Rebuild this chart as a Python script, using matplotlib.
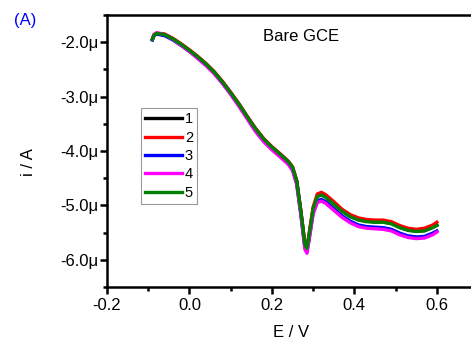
import matplotlib
matplotlib.use('Agg')
import matplotlib.pyplot as plt
from matplotlib.ticker import FuncFormatter, MultipleLocator

plt.rcParams['font.family'] = ['Liberation Sans', 'DejaVu Sans']

# Potential (V), shared by all scans
E = [-0.090, -0.086, -0.080, -0.060, -0.040, -0.020, 0.000, 0.020, 0.040, 0.060,
     0.080, 0.100, 0.120, 0.140, 0.160, 0.180, 0.200, 0.220, 0.240, 0.250,
     0.260, 0.270, 0.280, 0.285, 0.290, 0.300, 0.310, 0.320, 0.330, 0.350,
     0.370, 0.390, 0.410, 0.430, 0.450, 0.470, 0.490, 0.510, 0.530, 0.550,
     0.570, 0.590, 0.600]

# Current (uA) for scans 1..5
scan1 = [-1.95, -1.87, -1.84, -1.86, -1.94, -2.04, -2.15, -2.27, -2.40, -2.55,
         -2.73, -2.93, -3.14, -3.37, -3.59, -3.78, -3.93, -4.06, -4.20, -4.30,
         -4.55, -5.10, -5.72, -5.79, -5.56, -5.06, -4.83, -4.80, -4.84, -4.97,
         -5.10, -5.20, -5.26, -5.29, -5.30, -5.30, -5.33, -5.40, -5.45, -5.47,
         -5.46, -5.40, -5.36]
scan2 = [-1.94, -1.86, -1.83, -1.85, -1.93, -2.03, -2.14, -2.26, -2.39, -2.54,
         -2.72, -2.92, -3.13, -3.36, -3.58, -3.77, -3.92, -4.05, -4.19, -4.29,
         -4.54, -5.09, -5.70, -5.76, -5.53, -5.03, -4.79, -4.76, -4.80, -4.93,
         -5.07, -5.17, -5.23, -5.26, -5.27, -5.27, -5.30, -5.37, -5.42, -5.44,
         -5.42, -5.36, -5.31]
scan3 = [-1.96, -1.88, -1.85, -1.88, -1.96, -2.06, -2.17, -2.29, -2.42, -2.57,
         -2.75, -2.95, -3.16, -3.39, -3.62, -3.81, -3.96, -4.09, -4.23, -4.34,
         -4.59, -5.14, -5.77, -5.84, -5.62, -5.13, -4.92, -4.89, -4.93, -5.06,
         -5.19, -5.29, -5.36, -5.39, -5.40, -5.41, -5.44, -5.51, -5.56, -5.58,
         -5.57, -5.51, -5.47]
scan4 = [-1.95, -1.86, -1.83, -1.86, -1.95, -2.06, -2.17, -2.30, -2.43, -2.58,
         -2.76, -2.96, -3.18, -3.41, -3.64, -3.83, -3.98, -4.11, -4.25, -4.36,
         -4.61, -5.17, -5.81, -5.88, -5.65, -5.16, -4.95, -4.92, -4.96, -5.09,
         -5.22, -5.32, -5.39, -5.42, -5.43, -5.44, -5.47, -5.54, -5.59, -5.61,
         -5.60, -5.54, -5.49]
scan5 = [-1.95, -1.87, -1.84, -1.86, -1.94, -2.04, -2.15, -2.27, -2.40, -2.55,
         -2.73, -2.93, -3.14, -3.37, -3.59, -3.78, -3.93, -4.06, -4.20, -4.30,
         -4.55, -5.10, -5.72, -5.79, -5.56, -5.06, -4.84, -4.81, -4.85, -4.98,
         -5.11, -5.21, -5.27, -5.30, -5.31, -5.31, -5.34, -5.41, -5.46, -5.48,
         -5.47, -5.41, -5.37]

scans = [scan1, scan2, scan3, scan4, scan5]
labels = ['1', '2', '3', '4', '5']
colors = ['#000000', '#ff0000', '#0000ff', '#ff00ff', '#008000']

fig = plt.figure(figsize=(4.71, 3.43), dpi=100)
ax = fig.add_axes([107 / 471, 56 / 343, 369 / 471, 272 / 343])

for s, lab, c in zip(scans, labels, colors):
    ax.plot(E, [v * 1e-6 for v in s], color=c, lw=2.4, label=lab)

ax.set_xlim(-0.2, 0.695)
ax.set_ylim(-6.5e-6, -1.5e-6)

ax.xaxis.set_major_locator(MultipleLocator(0.2))
ax.xaxis.set_minor_locator(MultipleLocator(0.1))
ax.yaxis.set_major_locator(MultipleLocator(1e-6))
ax.yaxis.set_minor_locator(MultipleLocator(0.5e-6))
ax.xaxis.set_major_formatter(FuncFormatter(lambda v, p: f'{v:.1f}'.replace('-0.0', '0.0')))
ax.yaxis.set_major_formatter(FuncFormatter(lambda v, p: f'{v * 1e6:.1f}\u03bc'))

for side in ['left', 'bottom', 'top', 'right']:
    ax.spines[side].set_linewidth(1.8)
ax.tick_params(which='major', direction='out', length=5, width=1.8, labelsize=12)
ax.tick_params(axis='x', pad=3)
ax.tick_params(axis='y', pad=1)
ax.tick_params(which='minor', direction='out', length=3, width=1.8)
ax.tick_params(top=False, right=False, which='both')

ax.set_xlabel('E / V', fontsize=12)
ax.set_ylabel('i / A', fontsize=12)
ax.yaxis.set_label_coords(-0.192, 0.46)
ax.xaxis.set_label_coords(0.5, -0.14)

ax.text(0.27, -1.89e-6, 'Bare GCE', fontsize=12, ha='center', va='center')
fig.text(25 / 471, 1 - 20 / 343, '(A)', color='#0000ff', fontsize=12, ha='center', va='center')

leg = ax.legend(loc='upper left', bbox_to_anchor=(34 / 369, 1 - 93 / 272), fontsize=10.5,
                handlelength=2.5, handletextpad=0.2, labelspacing=0.3, borderpad=0.3,
                borderaxespad=0, fancybox=False, framealpha=1)
leg.get_frame().set_edgecolor('#999999')
leg.get_frame().set_linewidth(0.8)

fig.savefig('out.png', dpi=100)
